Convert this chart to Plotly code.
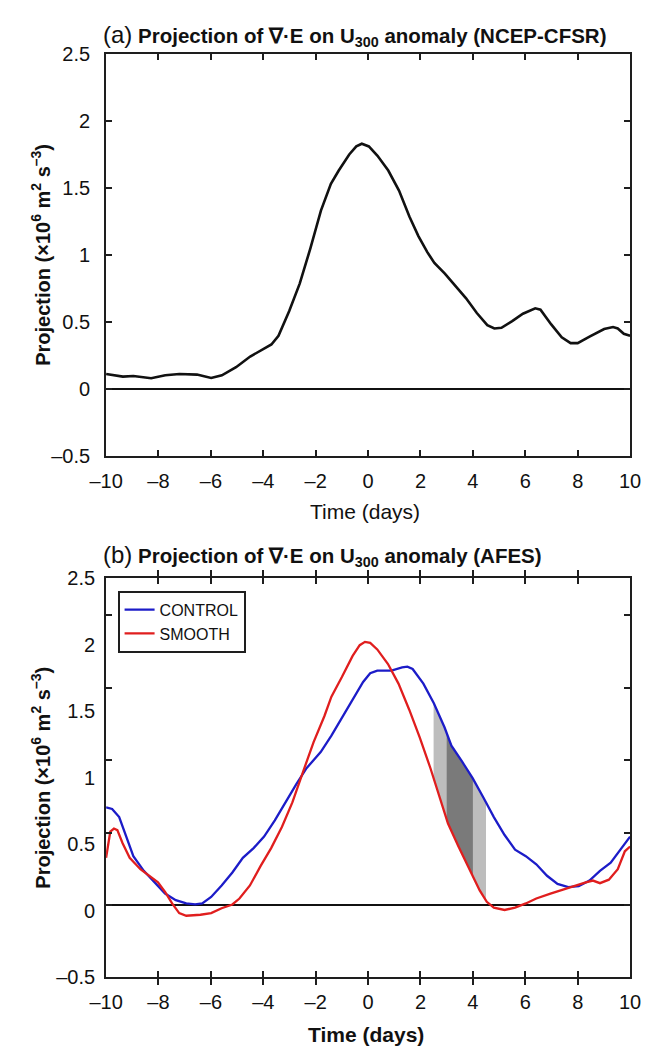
import numpy as np
import plotly.graph_objects as go

# ---------------- data ----------------
# Panel (a): NCEP-CFSR
days_a = [-10, -9.36, -8.96, -8.28, -7.74, -7.2, -6.53, -5.99, -5.58, -5.04, -4.5, -4.1,
          -3.69, -3.42, -3.01, -2.61, -2.2, -1.8, -1.5, -1.42, -1.12, -0.72, -0.45, -0.24, 0.03,
          0.36, 0.77, 1.18, 1.58, 1.92, 2.26, 2.53, 2.93, 3.34, 3.74, 4.15, 4.55, 4.82,
          5.09, 5.5, 5.91, 6.38, 6.58, 6.99, 7.39, 7.73, 8.0, 8.47, 9.01, 9.35, 9.53, 9.76, 10]
proj_a = [0.11, 0.09, 0.095, 0.078, 0.10, 0.11, 0.105, 0.08, 0.10, 0.16, 0.24, 0.285,
          0.33, 0.395, 0.58, 0.785, 1.05, 1.33, 1.49, 1.53, 1.63, 1.75, 1.81, 1.83, 1.81,
          1.74, 1.63, 1.48, 1.285, 1.14, 1.02, 0.94, 0.86, 0.77, 0.675, 0.565, 0.475, 0.45,
          0.455, 0.505, 0.56, 0.60, 0.59, 0.48, 0.383, 0.34, 0.34, 0.39, 0.445, 0.46, 0.45, 0.41, 0.395]

# Panel (b): AFES CONTROL
days_ctl = [-10, -9.77, -9.5, -9.23, -8.96, -8.56, -8.15, -7.75, -7.34, -6.94, -6.6, -6.33,
            -5.99, -5.59, -5.18, -4.78, -4.37, -3.97, -3.56, -3.16, -2.75, -2.35, -1.81, -1.4,
            -1.0, -0.59, -0.19, 0.08, 0.35, 0.89, 1.3, 1.5, 1.7, 2.11, 2.51, 2.92, 3.18, 3.59,
            3.99, 4.4, 4.8, 5.21, 5.61, 6.02, 6.42, 6.83, 7.23, 7.64, 8.04, 8.45, 8.85, 9.26, 9.66, 10]
proj_ctl = [0.674, 0.663, 0.607, 0.472, 0.337, 0.236, 0.157, 0.079, 0.034, 0.011, 0.004, 0.011,
            0.056, 0.135, 0.225, 0.326, 0.393, 0.472, 0.584, 0.708, 0.831, 0.944, 1.056, 1.169,
            1.292, 1.416, 1.539, 1.60, 1.618, 1.618, 1.64, 1.645, 1.629, 1.528, 1.393, 1.225, 1.10, 0.989,
            0.876, 0.742, 0.607, 0.483, 0.382, 0.337, 0.281, 0.202, 0.146, 0.124, 0.13, 0.169, 0.236, 0.292, 0.393, 0.472]

# Panel (b): AFES SMOOTH
days_smt = [-10, -9.84, -9.7, -9.57, -9.37, -9.1, -8.69, -8.29, -8.02, -7.75, -7.48, -7.21,
            -6.94, -6.4, -5.99, -5.59, -5.18, -4.91, -4.51, -4.1, -3.7, -3.29, -2.89, -2.48,
            -2.08, -1.67, -1.4, -1.0, -0.59, -0.32, -0.12, 0.08, 0.35, 0.76, 1.16, 1.57, 1.97,
            2.38, 2.78, 3.05, 3.45, 3.86, 4.26, 4.53, 4.8, 5.21, 5.61, 6.02, 6.42, 6.96, 7.5,
            7.91, 8.31, 8.58, 8.85, 9.19, 9.53, 9.8, 10]
proj_smt = [0.326, 0.506, 0.528, 0.517, 0.427, 0.326, 0.247, 0.191, 0.157, 0.09, 0.011, -0.056,
            -0.074, -0.067, -0.056, -0.022, 0.004, 0.045, 0.135, 0.27, 0.393, 0.539, 0.708, 0.921,
            1.124, 1.303, 1.438, 1.573, 1.719, 1.793, 1.816, 1.809, 1.764, 1.663, 1.528, 1.348, 1.157,
            0.944, 0.719, 0.562, 0.404, 0.247, 0.101, 0.022, -0.018, -0.034, -0.018, 0.011, 0.045, 0.079, 0.112,
            0.135, 0.157, 0.169, 0.151, 0.175, 0.247, 0.371, 0.404]

# shaded intervals (days)
shade_light = [2.5, 4.5]
shade_dark = [3.0, 4.0]

xtick_vals = [-10, -8, -6, -4, -2, 0, 2, 4, 6, 8, 10]
xtick_text = ["–10", "–8", "–6", "–4", "–2", "0", "2", "4", "6", "8", "10"]
ytick_vals = [-0.5, 0, 0.5, 1, 1.5, 2, 2.5]
ytick_text = ["–0.5", "0", "0.5", "1", "1.5", "2", "2.5"]

# ---------------- figure ----------------
W, H = 666, 1059
FONT = "Liberation Sans, Arial, Helvetica, sans-serif"
AX = "#1e1e1e"

def px_x(p):
    return p / W

def px_y(p):
    return 1 - p / H

xdom = [px_x(93), px_x(640)]
ydom_a = [px_y(454), px_y(44)]
ydom_b = [px_y(987), px_y(579)]

fig = go.Figure()

def band(lo, hi, color):
    xs = np.linspace(lo, hi, 41)
    top = np.interp(xs, days_ctl, proj_ctl)
    bot = np.interp(xs, days_smt, proj_smt)
    fig.add_trace(go.Scatter(
        x=np.concatenate([xs, xs[::-1]]),
        y=np.concatenate([top, bot[::-1]]),
        fill="toself", fillcolor=color, line=dict(width=0), mode="lines",
        xaxis="x2", yaxis="y2", showlegend=False, hoverinfo="skip"))

band(shade_light[0], shade_light[1], "#bdbdbd")
band(shade_dark[0], shade_dark[1], "#7a7a7a")

fig.add_trace(go.Scatter(x=days_a, y=proj_a, mode="lines",
                         line=dict(color="#111111", width=2.6),
                         xaxis="x", yaxis="y", showlegend=False))
fig.add_trace(go.Scatter(x=days_ctl, y=proj_ctl, mode="lines", name="CONTROL",
                         line=dict(color="#1c1cc8", width=2.3),
                         xaxis="x2", yaxis="y2"))
fig.add_trace(go.Scatter(x=days_smt, y=proj_smt, mode="lines", name="SMOOTH",
                         line=dict(color="#e01e1e", width=2.3),
                         xaxis="x2", yaxis="y2"))
# empty trace so that the label axis of panel (b) is drawn
fig.add_trace(go.Scatter(x=[None], y=[None], xaxis="x2", yaxis="y3",
                         showlegend=False, hoverinfo="skip"))

common_x = dict(range=[-10, 10], tickvals=xtick_vals, ticktext=xtick_text,
                ticks="inside", ticklen=6, tickwidth=1.6, tickcolor=AX,
                showline=True, linecolor=AX, linewidth=2, mirror="allticks",
                showgrid=False, zeroline=False, domain=xdom,
                tickfont=dict(size=20, color="#111", family=FONT),
                ticklabelstandoff=6)

fig.update_layout(
    width=W, height=H, margin=dict(l=0, r=0, t=0, b=0),
    paper_bgcolor="white", plot_bgcolor="white",
    font=dict(family=FONT, color="#111"),
    xaxis=dict(anchor="y", **common_x),
    yaxis=dict(anchor="x", domain=ydom_a, range=[-0.5, 2.5],
               tickvals=ytick_vals, ticktext=ytick_text,
               ticks="inside", ticklen=6, tickwidth=1.6, tickcolor=AX,
               showline=True, linecolor=AX, linewidth=2, mirror="allticks",
               showgrid=False, zeroline=True, zerolinecolor="#111", zerolinewidth=2.2,
               tickfont=dict(size=20, color="#111", family=FONT),
               ticklabelstandoff=10),
    xaxis2=dict(anchor="y2", **common_x),
    yaxis2=dict(anchor="x2", domain=ydom_b, range=[-0.5, 2.257],
                tickvals=[-0.5, 0, 0.5, 1, 1.5, 2],
                showticklabels=False,
                ticks="inside", ticklen=6, tickwidth=1.6, tickcolor=AX,
                showline=True, linecolor=AX, linewidth=2, mirror="allticks",
                showgrid=False, zeroline=True, zerolinecolor="#111", zerolinewidth=2.2),
    yaxis3=dict(anchor="x2", overlaying="y2", side="left", range=[-0.5, 2.5],
                tickvals=ytick_vals, ticktext=ytick_text, ticks="",
                showline=False, showgrid=False, zeroline=False,
                tickfont=dict(size=20, color="#111", family=FONT),
                ticklabelstandoff=10),
    legend=dict(x=px_x(105), y=px_y(592), xanchor="left", yanchor="top",
                bgcolor="white", bordercolor=AX, borderwidth=2,
                font=dict(size=16, color="#111", family=FONT),
                tracegroupgap=0, itemwidth=30),
)

title_tmpl = ("<span style='font-size:24px'>({p})</span> "
              "<b>Projection of ∇·E on U<sub>300</sub> anomaly ({src})</b>")
ytitle = "<b>Projection (×10<sup>6</sup> m<sup>2</sup> s<sup>–3</sup>)</b>"

annotations = [
    dict(text=title_tmpl.format(p="a", src="NCEP-CFSR"), x=px_x(88), y=px_y(25),
         xanchor="left", yanchor="middle", font=dict(size=20.5)),
    dict(text=title_tmpl.format(p="b", src="AFES"), x=px_x(88), y=px_y(556),
         xanchor="left", yanchor="middle", font=dict(size=20.5)),
    dict(text="Time (days)", x=px_x(363), y=px_y(511), xanchor="center", yanchor="middle",
         font=dict(size=21)),
    dict(text="<b>Time (days)</b>", x=px_x(364), y=px_y(1045), xanchor="center", yanchor="middle",
         font=dict(size=21)),
    dict(text=ytitle, x=px_x(25), y=px_y(249), textangle=-90, xanchor="center", yanchor="middle",
         font=dict(size=20)),
    dict(text=ytitle, x=px_x(25), y=px_y(783), textangle=-90, xanchor="center", yanchor="middle",
         font=dict(size=20)),
]
for a in annotations:
    a.update(xref="paper", yref="paper", showarrow=False)
    a["font"].update(family=FONT, color="#111")
fig.update_layout(annotations=annotations)

fig.write_html("out.html")
